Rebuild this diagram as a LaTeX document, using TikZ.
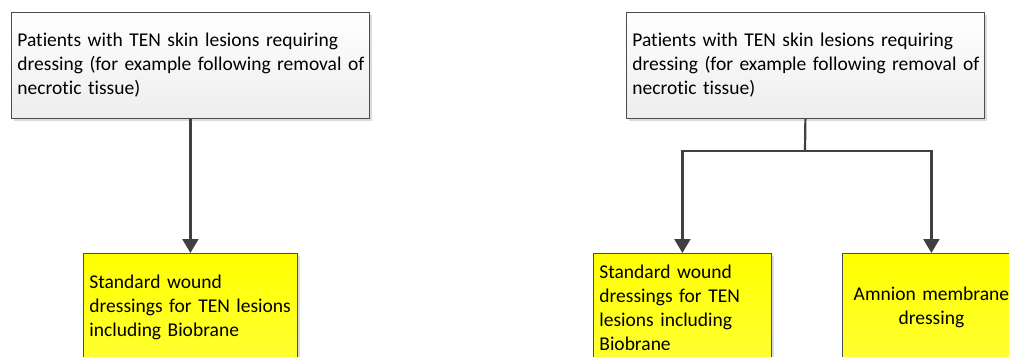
\documentclass[tikz,border=0pt]{standalone}
\usepackage{fontspec}
\setmainfont{Carlito}[Ligatures={NoCommon}]
\usetikzlibrary{arrows.meta,shadows,positioning}

\begin{document}
\begin{tikzpicture}[x=1pt,y=-1pt,
  box/.style={draw=black!70,line width=0.8pt,anchor=north west,inner xsep=6pt,inner ysep=0pt,
    font=\fontsize{19.5}{24}\selectfont,
    drop shadow={shadow xshift=3pt,shadow yshift=-3pt,fill=black!14,opacity=1}},
  pat/.style={box,top color=white,bottom color=black!7,minimum width=358pt,minimum height=106pt,text width=346pt,align=left},
  opt/.style={box,top color=yellow,bottom color=yellow!80!white,minimum height=108pt,align=#1},
  flow/.style={-{Triangle[width=16pt,length=14pt]},line width=2.2pt,draw=black!75},
  link/.style={line width=2.2pt,draw=black!75}]
\useasboundingbox (0,0) rectangle (1009,356);
% left picture
\node[pat] (pat1) at (11,12) {Patients with TEN skin lesions requiring\\\mbox{dressing (for example following removal of}\\necrotic tissue)};
\node[opt=left,minimum width=214pt,text width=202pt] (std1) at (83,253) {Standard wound\\dressings for TEN lesions\\including Biobrane};
\draw[flow] (pat1.south) -- (std1.north);
% right picture
\node[pat] (pat2) at (626,12) {Patients with TEN skin lesions requiring\\\mbox{dressing (for example following removal of}\\necrotic tissue)};
\node[opt=left,minimum width=178pt,text width=166pt] (std2) at (593,253) {Standard wound\\dressings for TEN\\lesions including\\Biobrane};
\node[opt=center,minimum width=178pt,text width=166pt] (amn2) at (842,253) {Amnion membrane\\dressing};
\coordinate (j) at (805,151);
\draw[link] (pat2.south) -- (j);
\draw[flow] (j) -| (std2.north);
\draw[flow] (j) -| (amn2.north);
\end{tikzpicture}
\end{document}
